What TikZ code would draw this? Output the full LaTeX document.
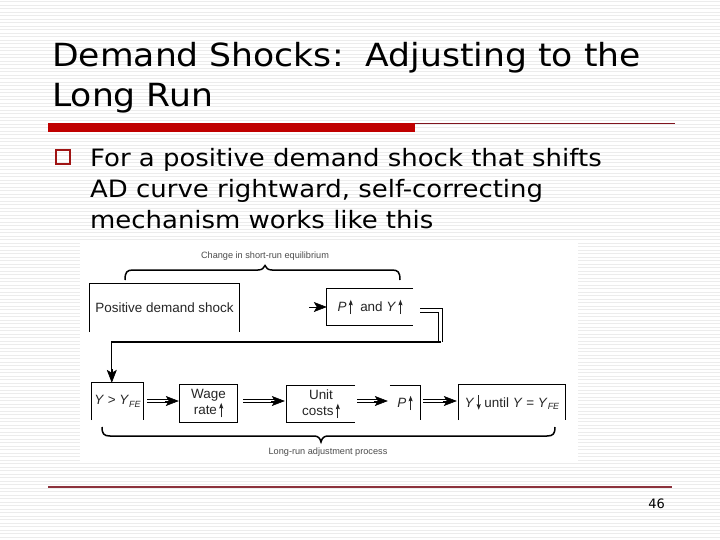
\documentclass[tikz,border=0pt]{standalone}
\usepackage{fontspec}
\setmainfont{DejaVu Sans}
\newfontfamily\widefont[FakeStretch=1.085]{DejaVu Sans}
\newfontfamily\diagfont{Liberation Sans}
\usetikzlibrary{arrows.meta}
\definecolor{barred}{RGB}{192,0,0}
\definecolor{thinred}{RGB}{128,20,30}
\definecolor{footred}{RGB}{140,50,60}
\definecolor{bulletred}{RGB}{160,20,20}
\definecolor{stripe}{RGB}{236,236,236}
\newcommand\uparr{\tikz[baseline=0pt]\draw[line width=1pt,-{Stealth[length=5.5pt,width=4pt,inset=0.8pt]}] (0pt,-2.5pt) -- (0pt,12pt);}
\newcommand\dnarr{\tikz[baseline=0pt]\draw[line width=1pt,-{Stealth[length=5.5pt,width=4pt,inset=0.8pt]}] (0pt,12pt) -- (0pt,-2.5pt);}
\newcommand\dblarrow[2]{\draw[dline,shorten >=9bp] (#1) -- (#2); \draw[ahead] (#2) ++(-14,0) -- (#2);}
\begin{document}
\begin{tikzpicture}[x=1bp,y=-1bp,
  titletxt/.style={anchor=base west,inner sep=0,font=\widefont\fontsize{32}{38}\selectfont},
  bodytxt/.style={anchor=base west,inner sep=0,font=\widefont\fontsize{24}{29}\selectfont},
  dbox/.style={draw=none,inner sep=0,align=center,text=black!85,font=\diagfont\fontsize{13.5}{16.5}\selectfont},
  side/.style={line width=1.1bp,black},
  smalltxt/.style={inner sep=0,text=black!70,font=\diagfont\fontsize{9.2}{11}\selectfont},
  dline/.style={double,double distance=2.4bp,line width=1bp,black},
  ahead/.style={line width=0.6bp,-{Stealth[length=13bp,width=10bp,inset=3bp]}},
  bracepath/.style={line width=1.5bp,black}]
\useasboundingbox (0,0) rectangle (720,540);
\fill[white] (0,0) rectangle (720,540);
\foreach \i in {0,...,154} \draw[stripe,line width=0.9bp] (0,1.5+\i*3.5) -- (720,1.5+\i*3.5);
\fill[white] (80,240) rectangle (578,462);
% title
\node[titletxt] (t1) at (52,67) {Demand Shocks:\ \ Adjusting to the};
\node[titletxt] (t2) at (52,107) {Long Run};
\fill[barred] (48,123) rectangle (415,132);
\draw[thinred,line width=1.2bp] (415,123.5) -- (675,123.5);
% bullet
\draw[bulletred,line width=1.8bp] (56,150) rectangle (70,164);
\node[bodytxt] (b1) at (90,167) {For a positive demand shock that shifts};
\node[bodytxt] (b2) at (90,198) {AD curve rightward, self-correcting};
\node[bodytxt] (b3) at (90,229) {mechanism works like this};
% footer
\draw[footred,line width=1.3bp] (48,487) -- (672,487);
\node[anchor=base east,inner sep=0,font=\fontsize{13}{15}\selectfont] (pg) at (665,508) {46};
% ---- diagram ----
\node[smalltxt] (lab1) at (265,256) {Change in short-run equilibrium};
\draw[bracepath] (125,280) .. controls (125,272) and (127,270) .. (133,270) -- (258,270)
  .. controls (262,270) and (264,268) .. (265,265.5) .. controls (266,268) and (268,270) .. (272,270)
  -- (392,270) .. controls (398,270) and (400,272) .. (400,280);
\node[dbox,minimum width=149bp,minimum height=48bp] (shock) at (164.5,308) {Positive demand shock};
\draw[side] (shock.south west) -- (shock.north west) -- (shock.north east) -- (shock.south east);
\node[dbox,minimum width=86bp,minimum height=36bp] (py) at (370,307) {\textit{P}\,\uparr\ \ and \textit{Y}\,\uparr};
\draw[side] (py.north east) -- (py.north west) -- (py.south west) -- (py.south east);
\coordinate (pin) at (309,307);
\draw[ahead] (pin) -- (py.west);
\coordinate (turn) at (440.5,342);
\draw[dline] ([xshift=7bp,yshift=-3.5bp]py.east) -| (turn);
% bottom row
\node[dbox,minimum width=51bp,minimum height=37bp] (yfe) at (117.5,401.5) {\textit{Y} \textgreater{} \textit{Y}\raisebox{-0.35ex}{\fontsize{9}{9}\selectfont\textit{FE}}};
\draw[side] (yfe.south west) -- (yfe.north west) -- (yfe.north east) -- (yfe.south east);
\coordinate (dn) at ([xshift=20bp]yfe.north west);
\draw[line width=1.2bp] (turn) -- (turn -| dn) -- ([yshift=10bp]dn);
\draw[ahead] ([yshift=14bp]dn) -- (dn);
\node[dbox,minimum width=57bp,minimum height=37bp] (wage) at (208.5,403.5) {Wage\\rate\,\uparr};
\draw[side] (wage.south west) rectangle (wage.north east);
\node[dbox,minimum width=68bp,minimum height=36bp] (unit) at (321,404) {Unit\\costs\,\uparr};
\draw[side] (unit.north east) -- (unit.north west) -- (unit.south west) -- (unit.south east);
\node[dbox,minimum width=30bp,minimum height=34bp] (pbox) at (405,403) {\textit{P}\,\uparr};
\draw[side] (pbox.north west) -- (pbox.north east) -- (pbox.south east);
\node[dbox,minimum width=106bp,minimum height=35bp] (ybox) at (512,402.5) {\textit{Y}\,\dnarr\ until \textit{Y} = \textit{Y}\raisebox{-0.35ex}{\fontsize{9}{9}\selectfont\textit{FE}}};
\draw[side] (ybox.south west) -- (ybox.north west) -- (ybox.north east) -- (ybox.south east);
\coordinate (row) at (0,401);
\coordinate (a1s) at ([xshift=4bp]yfe.east |- row);
\coordinate (a1e) at ([xshift=-1bp]wage.west |- row);
\coordinate (a2s) at ([xshift=6bp]wage.east |- row);
\coordinate (a2e) at ([xshift=-2bp]unit.west |- row);
\coordinate (a3s) at ([xshift=2bp]unit.east |- row);
\coordinate (a3e) at ([xshift=-2bp]pbox.west |- row);
\coordinate (a4s) at ([xshift=3bp]pbox.east |- row);
\coordinate (a4e) at ([xshift=-2bp]ybox.west |- row);
\dblarrow{a1s}{a1e}
\dblarrow{a2s}{a2e}
\dblarrow{a3s}{a3e}
\dblarrow{a4s}{a4e}
\draw[bracepath] (102,427) .. controls (102,434) and (104,436) .. (110,436) -- (314,436)
  .. controls (318,436) and (320,438) .. (321,442) .. controls (322,438) and (324,436) .. (328,436)
  -- (547,436) .. controls (553,436) and (555,434) .. (555,427);
\node[smalltxt] (lab2) at (328,452) {Long-run adjustment process};
\end{tikzpicture}
\end{document}
